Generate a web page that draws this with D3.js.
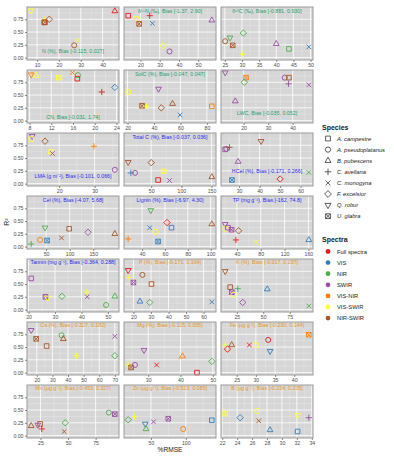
<!DOCTYPE html>
<html>
<head>
<meta charset="utf-8">
<script src="https://cdn.jsdelivr.net/npm/d3@7"></script>
<style>
  body { margin: 0; background: #fff; }
  svg { font-family: "Liberation Sans", Arial, sans-serif; }
</style>
</head>
<body>
<svg id="chart" width="394" height="457"></svg>
<script>
// species (shape) and spectra (colour) keys
const speciesCodes = ['Ac', 'Ap', 'Bp', 'Ca', 'Cm', 'Fe', 'Qr', 'Ug'];
const speciesNames = ['A. campestre', 'A. pseudoplatanus', 'B. pubescens', 'C. avellana',
    'C. monogyna', 'F. excelsior', 'Q. robur', 'U. glabra'];
const spectra = ['Full spectra', 'VIS', 'NIR', 'SWIR', 'VIS-NIR', 'VIS-SWIR', 'NIR-SWIR'];
const spectraColors = ['#e41a1c', '#377eb8', '#4daf4a', '#984ea3', '#ff7f00', '#ffff33', '#a65628'];

// facet titles, title colour group, tick labels
const facetTitles = [
    'N (%), Bias [-0.115, 0.027]', 'δ¹⁵N (‰), Bias [-1.37, 2.90]', 'δ¹³C (‰), Bias [-0.881, 0.930]',
    'CN, Bias [-0.031, 1.74]', 'SolC (%), Bias [-0.047, 0.047]', 'LWC, Bias [-0.035, 0.052]',
    'LMA (g m⁻²), Bias [-0.101, 0.066]', 'Total C (%), Bias [-0.037, 0.036]', 'HCel (%), Bias [-0.171, 0.266]',
    'Cel (%), Bias [-4.07, 5.68]', 'Lignin (%), Bias [-6.97, 4.30]', 'TP (mg g⁻¹), Bias [-162, 74.8]',
    'Tannin (mg g⁻¹), Bias [-0.364, 0.288]', 'P (%), Bias [-0.171, 0.164]', 'K (%), Bias [-0.917, 0.237]',
    'Ca (%), Bias [-0.327, 0.182]', 'Mg (%), Bias [-0.115, 0.055]', 'Fe (μg g⁻¹), Bias [-0.230, 0.144]',
    'Mn (μg g⁻¹), Bias [-0.453, 0.327]', 'Zn (μg g⁻¹), Bias [-0.523, 0.085]', 'B (μg g⁻¹), Bias [-0.234, 0.235]'
];
const titleGroup = ['g', 'g', 'g', 'g', 'g', 'g', 'b', 'b', 'b', 'b', 'b', 'b',
    'b', 'o', 'o', 'o', 'o', 'o', 'o', 'o', 'o'];
// annotation height of each title, in R² units
const titleY = [0.13, 0.9, 0.9, 0.07, 0.9, 0.15, 0.14, 0.9, 0.24, 0.9, 0.9, 0.9,
    0.92, 0.92, 0.92, 0.92, 0.92, 0.92, 0.92, 0.92, 0.92];
const xTicks = [
    [10, 20, 30, 40], [20, 30, 40, 50], [25, 30, 35, 40, 45, 50],
    [8, 12, 16, 20, 24], [20, 40, 60, 80], [20, 30, 40],
    [20, 30], [50, 100, 150], [30, 40, 50, 60],
    [50, 100, 150], [40, 60, 80, 100], [40, 80, 120, 160],
    [20, 30, 40, 50], [20, 30, 40, 50, 60], [25, 50, 75],
    [20, 30, 40, 50, 60, 70], [30, 40, 50], [25, 30, 35, 40],
    [25, 50, 75], [50, 100], [22, 24, 26, 28, 30, 32, 34]
];
const yTicks = [0, 0.25, 0.5, 0.75];

// [species, spectra, %RMSE, R²]
const nPts = [['Qr','VIS-SWIR',7.3,0.92],['Ca','VIS-SWIR',13.6,0.75],['Ac','Full spectra',13.3,0.69],['Ug','NIR-SWIR',13.6,0.69],
    ['Fe','NIR-SWIR',15.6,0.75],['Bp','Full spectra',45.6,0.91],['Cm','VIS-SWIR',28.5,0.34],['Ap','NIR-SWIR',27.0,0.24]];
const d15nPts = [['Ac','Full spectra',13.6,0.82],['Qr','VIS-SWIR',17.9,0.77],['Ca','Full spectra',24.8,0.82],['Ug','NIR-SWIR',19.3,0.66],
    ['Cm','VIS',26.2,0.67],['Fe','VIS-SWIR',31.7,0.23],['Ap','SWIR',35.1,0.12],['Bp','SWIR',57.1,0.73]];
const d13cPts = [['Ap','NIR-SWIR',25.1,0.32],['Qr','NIR',26.5,0.39],['Ug','NIR-SWIR',27.3,0.24],['Fe','NIR',30.4,0.48],
    ['Ca','VIS-SWIR',30.2,0.065],['Bp','SWIR',40.0,0.27],['Ac','NIR',43.7,0.17],['Cm','VIS',49.5,0.21]];
const cnPts = [['Qr','VIS-NIR',8.3,0.90],['Bp','VIS-SWIR',9.2,0.88],['Ug','VIS-SWIR',13.4,0.84],['Cm','VIS-NIR',15.9,0.94],
    ['Ap','NIR',16.9,0.89],['Ac','Full spectra',16.8,0.82],['Ca','Full spectra',21.3,0.56],['Fe','VIS',23.7,0.65]];
const solcPts = [['Ap','VIS-SWIR',20.5,0.56],['Qr','SWIR',43.4,0.62],['Ug','NIR-SWIR',31.0,0.29],['Ca','VIS-SWIR',34.2,0.28],
    ['Fe','NIR-SWIR',45.5,0.25],['Bp','NIR-SWIR',54.0,0.33],['Cm','VIS',59.7,0.11],['Ac','VIS-NIR',83.7,0.28]];
const lwcPts = [['Qr','SWIR',12.5,0.94],['Ug','VIS-NIR',21.0,0.84],['Fe','NIR',20.3,0.75],['Ap','SWIR',36.8,0.84],
    ['Ac','NIR-SWIR',38.5,0.84],['Ca','SWIR',38.3,0.72],['Cm','SWIR',46.6,0.70],['Bp','SWIR',16.6,0.38]];
const lmaPts = [['Qr','SWIR',12.4,0.93],['Ac','VIS-SWIR',12.1,0.87],['Fe','NIR-SWIR',16.0,0.83],['Ug','VIS-SWIR',17.7,0.62],
    ['Cm','SWIR',18.1,0.59],['Ca','VIS-NIR',29.8,0.73],['Ap','SWIR',35.7,0.27]];
const totcPts = [['Qr','NIR-SWIR',11.8,0.42],['Ca','VIS',16.2,0.21],['Ap','SWIR',23.2,0.21],['Fe','NIR-SWIR',50.0,0.41],
    ['Ug','VIS-SWIR',70.6,0.24],['Ac','Full spectra',61.4,0.07],['Cm','SWIR',80.3,0.06],['Bp','NIR-SWIR',150.5,0.13]];
const hcelPts = [['Qr','NIR-SWIR',40.7,0.83],['Ac','SWIR',23.2,0.67],['Ap','SWIR',23.8,0.68],['Ca','NIR-SWIR',25.3,0.71],
    ['Bp','SWIR',29.5,0.43],['Fe','Full spectra',50.0,0.09],['Cm','NIR',64.0,0.22],['Ug','VIS',26.5,0.07]];
const celPts = [['Ca','NIR',18.5,0.05],['Ap','VIS-NIR',37.4,0.13],['Ug','VIS',52.1,0.12],['Qr','NIR',47.9,0.37],
    ['Cm','NIR-SWIR',82.8,0.17],['Ac','NIR-SWIR',99.0,0.35],['Fe','SWIR',138.9,0.28],['Bp','NIR-SWIR',195.6,0.25]];
const ligninPts = [['Ca','VIS-NIR',27.8,0.15],['Qr','NIR',47.6,0.71],['Cm','VIS',46.7,0.37],['Ap','VIS-SWIR',51.7,0.29],
    ['Ug','VIS',54.0,0.10],['Fe','Full spectra',61.8,0.47],['Ac','VIS',65.7,0.37],['Bp','NIR-SWIR',101.0,0.44]];
const tpPts = [['Qr','SWIR',20.3,0.44],['Ap','VIS-SWIR',20.3,0.35],['Ac','SWIR',25.0,0.37],['Ug','SWIR',31.0,0.33],
    ['Fe','NIR-SWIR',42.8,0.31],['Ca','Full spectra',38.3,0.13],['Cm','VIS-SWIR',72.0,0.08],['Bp','VIS',160.7,0.13]];
const tanninPts = [['Ac','SWIR',21.0,0.61],['Ug','SWIR',26.4,0.25],['Qr','VIS-SWIR',27.2,0.23],['Fe','NIR',32.6,0.26],
    ['Ca','VIS-SWIR',42.0,0.34],['Cm','SWIR',42.2,0.25],['Ap','NIR',49.3,0.09],['Bp','NIR',52.6,0.26]];
const pPts = [['Qr','Full spectra',17.0,0.77],['Ca','VIS-SWIR',17.5,0.63],['Ug','SWIR',20.0,0.53],['Ap','NIR-SWIR',25.1,0.68],
    ['Ac','NIR-SWIR',30.3,0.50],['Bp','VIS',23.7,0.16],['Fe','NIR',29.3,0.14],['Cm','VIS',64.7,0.15]];
const kPts = [['Qr','NIR-SWIR',14.0,0.75],['Ac','NIR-SWIR',18.7,0.44],['Ca','NIR',25.9,0.41],['Ug','SWIR',20.3,0.34],
    ['Ap','VIS-SWIR',21.9,0.29],['Bp','VIS',53.8,0.40],['Fe','SWIR',30.6,0.14],['Cm','NIR',93.1,0.07]];
const caPts = [['Qr','SWIR',16.4,0.83],['Ug','NIR-SWIR',19.6,0.66],['Ac','NIR-SWIR',26.3,0.52],['Ap','NIR',35.9,0.73],
    ['Bp','NIR-SWIR',37.0,0.66],['Ca','VIS-SWIR',45.4,0.33],['Cm','SWIR',70.0,0.71],['Fe','NIR',70.0,0.33]];
const mgPts = [['Ca','VIS-SWIR',23.8,0.15],['Ap','SWIR',25.9,0.15],['Ug','NIR-SWIR',24.7,0.10],['Qr','SWIR',28.7,0.44],
    ['Cm','Full spectra',32.6,0.15],['Bp','VIS-NIR',40.6,0.32],['Ac','Full spectra',45.1,0.00],['Fe','NIR',49.7,0.22]];
const fePts = [['Ca','VIS-SWIR',22.0,0.54],['Fe','Full spectra',22.6,0.46],['Bp','NIR-SWIR',23.7,0.54],['Cm','Full spectra',28.3,0.54],
    ['Ac','VIS-SWIR',30.0,0.54],['Ap','Full spectra',33.2,0.64],['Qr','VIS',33.7,0.42],['Ug','VIS-NIR',43.8,0.74]];
const mnPts = [['Bp','NIR-SWIR',16.6,0.19],['Qr','SWIR',22.6,0.21],['Ac','NIR-SWIR',24.7,0.23],['Ca','Full spectra',26.2,0.13],
    ['Fe','NIR',47.5,0.25],['Cm','NIR-SWIR',46.6,0.08],['Ap','NIR',87.0,0.45],['Ug','SWIR',92.4,0.42]];
const znPts = [['Fe','NIR',17.4,0.31],['Ca','VIS-SWIR',26.3,0.37],['Qr','VIS',41.9,0.23],['Bp','NIR',42.9,0.13],
    ['Cm','SWIR',53.7,0.27],['Ug','SWIR',74.9,0.33],['Ap','VIS-NIR',96.2,0.13],['Ac','VIS',137.3,0.30]];
const bPts = [['Ug','VIS-SWIR',22.4,0.43],['Fe','VIS',24.4,0.35],['Ap','VIS-SWIR',26.7,0.48],['Cm','NIR-SWIR',26.9,0.29],
    ['Bp','VIS',28.4,0.11],['Qr','VIS-SWIR',32.1,0.40],['Ac','VIS',32.1,0.08],['Ca','SWIR',33.6,0.35]];

const facetPoints = [nPts, d15nPts, d13cPts, cnPts, solcPts, lwcPts, lmaPts, totcPts, hcelPts,
    celPts, ligninPts, tpPts, tanninPts, pPts, kPts, caPts, mgPts, fePts, mnPts, znPts, bPts];

// layout
const colX = [27, 124, 221];
const panelW = 92, panelH = 53, rowTop = 7, rowStep = 63;
const titleColors = { g: '#1f9e6e', b: '#2828f0', o: '#e8961c' };

const colour = d3.scaleOrdinal().domain(spectra).range(spectraColors);

// open ggplot-like shapes, s = half size
function shapePath(code, s) {
    const p = d3.path();
    if (code === 'Ac' || code === 'Ug') {
        p.rect(-s, -s, 2 * s, 2 * s);
        if (code === 'Ug') {
            p.moveTo(-s, -s); p.lineTo(s, s);
            p.moveTo(-s, s); p.lineTo(s, -s);
        }
    } else if (code === 'Ap') {
        p.moveTo(s * 1.1, 0); p.arc(0, 0, s * 1.1, 0, 2 * Math.PI);
    } else if (code === 'Bp' || code === 'Qr') {
        const d = code === 'Bp' ? 1 : -1, r = s * 1.45;
        p.moveTo(0, -d * r);
        p.lineTo(r * 0.866, d * r * 0.5);
        p.lineTo(-r * 0.866, d * r * 0.5);
        p.closePath();
    } else if (code === 'Ca') {
        const r = s * 1.35;
        p.moveTo(-r, 0); p.lineTo(r, 0);
        p.moveTo(0, -r); p.lineTo(0, r);
    } else if (code === 'Cm') {
        p.moveTo(-s, -s); p.lineTo(s, s);
        p.moveTo(-s, s); p.lineTo(s, -s);
    } else if (code === 'Fe') {
        const r = s * 1.4;
        p.moveTo(0, -r); p.lineTo(r, 0); p.lineTo(0, r); p.lineTo(-r, 0); p.closePath();
    }
    return p.toString();
}

const svg = d3.select('#chart');

facetTitles.forEach((title, i) => {
    const col = i % 3, row = Math.floor(i / 3);
    const pts = facetPoints[i];
    const g = svg.append('g').attr('transform', `translate(${colX[col]},${rowTop + row * rowStep})`);

    const ext = d3.extent(pts, d => d[2]);
    const pad = (ext[1] - ext[0]) * 0.05;
    const x = d3.scaleLinear().domain([ext[0] - pad, ext[1] + pad]).range([0, panelW]);
    const y = d3.scaleLinear().domain([-0.047, 0.99]).range([panelH, 0]);

    g.append('rect').attr('width', panelW).attr('height', panelH).attr('fill', '#d6d6d6');

    // minor + major grid
    const xt = xTicks[i];
    const step = xt.length > 1 ? xt[1] - xt[0] : 10;
    const xMinor = d3.range(xt[0] - step / 2, xt[xt.length - 1] + step, step)
        .filter(v => v > x.domain()[0] && v < x.domain()[1]);
    const yMinor = [-0.125, 0.125, 0.375, 0.625, 0.875].filter(v => v > y.domain()[0] && v < y.domain()[1]);
    g.selectAll('.xmin').data(xMinor).join('line')
        .attr('x1', d => x(d)).attr('x2', d => x(d)).attr('y1', 0).attr('y2', panelH)
        .attr('stroke', '#ececec').attr('stroke-width', 0.4);
    g.selectAll('.ymin').data(yMinor).join('line')
        .attr('x1', 0).attr('x2', panelW).attr('y1', d => y(d)).attr('y2', d => y(d))
        .attr('stroke', '#ececec').attr('stroke-width', 0.4);
    g.selectAll('.xmaj').data(xt).join('line')
        .attr('x1', d => x(d)).attr('x2', d => x(d)).attr('y1', 0).attr('y2', panelH)
        .attr('stroke', '#fff').attr('stroke-width', 0.8);
    g.selectAll('.ymaj').data(yTicks).join('line')
        .attr('x1', 0).attr('x2', panelW).attr('y1', d => y(d)).attr('y2', d => y(d))
        .attr('stroke', '#fff').attr('stroke-width', 0.8);

    g.append('text')
        .attr('x', panelW / 2).attr('y', y(titleY[i]))
        .attr('dy', '0.35em')
        .attr('text-anchor', 'middle')
        .attr('font-size', 5.3)
        .attr('fill', titleColors[titleGroup[i]])
        .text(title);

    g.selectAll('.pt').data(pts).join('path')
        .attr('transform', d => `translate(${x(d[2])},${y(d[3])})`)
        .attr('d', d => shapePath(d[0], 2.3))
        .attr('fill', 'none')
        .attr('stroke', d => colour(d[1]))
        .attr('stroke-width', 0.9);

    g.append('rect').attr('width', panelW).attr('height', panelH)
        .attr('fill', 'none').attr('stroke', '#9c9c9c').attr('stroke-width', 1);

    const xAxis = g.append('g').attr('transform', `translate(0,${panelH})`)
        .call(d3.axisBottom(x).tickValues(xt).tickSize(2).tickPadding(1).tickFormat(d3.format('d')));
    xAxis.select('.domain').remove();
    xAxis.selectAll('line').attr('stroke', '#444').attr('stroke-width', 0.6);
    xAxis.selectAll('text').attr('font-size', 5.2).attr('fill', '#4d4d4d').attr('font-family', null);

    if (col === 0) {
        const yAxis = g.append('g')
            .call(d3.axisLeft(y).tickValues(yTicks).tickSize(2).tickPadding(1.5).tickFormat(d3.format('.2f')));
        yAxis.select('.domain').remove();
        yAxis.selectAll('line').attr('stroke', '#444').attr('stroke-width', 0.6);
        yAxis.selectAll('text').attr('font-size', 5.2).attr('fill', '#4d4d4d').attr('font-family', null);
    }
});

// axis titles
svg.append('text')
    .attr('transform', 'translate(9,222) rotate(-90)')
    .attr('text-anchor', 'middle')
    .attr('font-size', 7)
    .attr('fill', '#222')
    .text('R²');
svg.append('text')
    .attr('x', 170).attr('y', 452)
    .attr('text-anchor', 'middle')
    .attr('font-size', 6.6)
    .attr('fill', '#222')
    .text('%RMSE');

// legends
const legX = 322;
const sp = svg.append('g').attr('transform', `translate(${legX},0)`);
sp.append('text').attr('x', 0).attr('y', 130).attr('font-size', 7).attr('font-weight', 'bold')
    .attr('fill', '#222').text('Species');
speciesCodes.forEach((c, i) => {
    const yy = 138.5 + i * 11.1;
    sp.append('path').attr('transform', `translate(6,${yy})`)
        .attr('d', shapePath(c, 2.4)).attr('fill', 'none').attr('stroke', '#333').attr('stroke-width', 0.8);
    sp.append('text').attr('x', 15).attr('y', yy).attr('dy', '0.35em')
        .attr('font-size', 5.8).attr('font-style', 'italic').attr('fill', '#222').text(speciesNames[i]);
});

const sc = svg.append('g').attr('transform', `translate(${legX},0)`);
sc.append('text').attr('x', 0).attr('y', 242).attr('font-size', 7).attr('font-weight', 'bold')
    .attr('fill', '#222').text('Spectra');
spectra.forEach((s, i) => {
    const yy = 251.5 + i * 11.1;
    sc.append('circle').attr('cx', 6).attr('cy', yy).attr('r', 2.4).attr('fill', colour(s));
    sc.append('text').attr('x', 15).attr('y', yy).attr('dy', '0.35em')
        .attr('font-size', 5.8).attr('fill', '#222').text(s);
});
</script>
</body>
</html>
